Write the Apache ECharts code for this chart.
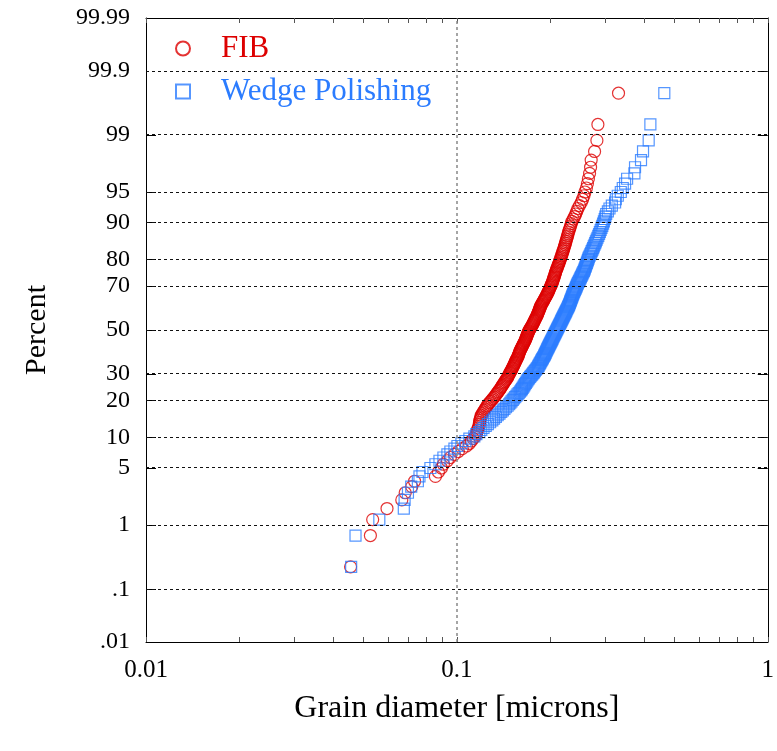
<!DOCTYPE html>
<html>
<head>
<meta charset="utf-8">
<script src="https://cdn.jsdelivr.net/npm/echarts@6/dist/echarts.min.js"></script>
<style>html,body{margin:0;padding:0;background:#fff}#c{width:777px;height:751px}</style>
</head>
<body>
<div id="c"></div>
<script>
// Grain diameters (microns), sorted
const fibDiameter = [
0.0455,0.0527,0.0536,0.0596,0.0665,0.0682,0.0716,0.0731,0.0853,0.0872,
0.0892,0.0905,0.0932,0.0953,0.0982,0.1011,0.1041,0.1073,0.1097,0.1113,
0.1129,0.1146,0.1155,0.1160,0.1163,0.1172,0.1177,0.1181,0.1183,0.1185,
0.1190,0.1194,0.1198,0.1207,0.1216,0.1225,0.1234,0.1243,0.1252,0.1262,
0.1273,0.1284,0.1296,0.1307,0.1319,0.1329,0.1338,0.1348,0.1358,0.1368,
0.1376,0.1385,0.1393,0.1401,0.1409,0.1418,0.1426,0.1435,0.1443,0.1452,
0.1458,0.1465,0.1471,0.1478,0.1484,0.1491,0.1497,0.1504,0.1510,0.1517,
0.1523,0.1528,0.1534,0.1540,0.1545,0.1551,0.1557,0.1563,0.1568,0.1574,
0.1579,0.1583,0.1588,0.1592,0.1597,0.1603,0.1609,0.1615,0.1621,0.1627,
0.1633,0.1639,0.1645,0.1652,0.1658,0.1663,0.1668,0.1673,0.1677,0.1682,
0.1687,0.1692,0.1697,0.1702,0.1707,0.1715,0.1722,0.1730,0.1738,0.1746,
0.1752,0.1759,0.1765,0.1772,0.1778,0.1785,0.1791,0.1798,0.1805,0.1812,
0.1817,0.1822,0.1828,0.1833,0.1839,0.1844,0.1850,0.1855,0.1860,0.1866,
0.1874,0.1882,0.1891,0.1899,0.1908,0.1916,0.1925,0.1933,0.1942,0.1950,
0.1957,0.1965,0.1972,0.1979,0.1987,0.1994,0.2002,0.2009,0.2017,0.2024,
0.2030,0.2036,0.2042,0.2048,0.2054,0.2060,0.2066,0.2072,0.2078,0.2084,
0.2092,0.2100,0.2107,0.2115,0.2123,0.2131,0.2139,0.2147,0.2155,0.2163,
0.2171,0.2179,0.2187,0.2195,0.2203,0.2211,0.2219,0.2228,0.2236,0.2244,
0.2252,0.2261,0.2269,0.2278,0.2286,0.2298,0.2310,0.2322,0.2334,0.2345,
0.2368,0.2392,0.2411,0.2431,0.2451,0.2480,0.2512,0.2538,0.2563,0.2582,
0.2610,0.2630,0.2649,0.2672,0.2692,0.2704,0.2773,0.2821,0.2842,0.3311];

const wedgeDiameter = [
0.0457,0.0472,0.0563,0.0675,0.0679,0.0696,0.0713,0.0749,0.0758,0.0775,
0.0822,0.0853,0.0879,0.0905,0.0932,0.0953,0.0982,0.1004,0.1034,0.1065,
0.1097,0.1138,0.1155,0.1181,0.1198,0.1218,0.1238,0.1258,0.1279,0.1300,
0.1317,0.1335,0.1353,0.1371,0.1389,0.1406,0.1422,0.1439,0.1456,0.1473,
0.1486,0.1499,0.1513,0.1526,0.1540,0.1554,0.1567,0.1581,0.1595,0.1609,
0.1619,0.1628,0.1638,0.1647,0.1657,0.1667,0.1677,0.1687,0.1697,0.1707,
0.1720,0.1732,0.1745,0.1758,0.1769,0.1781,0.1792,0.1803,0.1814,0.1825,
0.1833,0.1841,0.1849,0.1858,0.1866,0.1874,0.1882,0.1891,0.1899,0.1908,
0.1915,0.1922,0.1929,0.1936,0.1943,0.1950,0.1957,0.1965,0.1972,0.1979,
0.1986,0.1994,0.2001,0.2009,0.2016,0.2024,0.2031,0.2039,0.2046,0.2054,
0.2062,0.2069,0.2077,0.2084,0.2092,0.2100,0.2107,0.2115,0.2123,0.2131,
0.2139,0.2147,0.2155,0.2163,0.2171,0.2179,0.2187,0.2195,0.2203,0.2211,
0.2219,0.2228,0.2236,0.2244,0.2252,0.2261,0.2269,0.2278,0.2286,0.2294,
0.2301,0.2308,0.2314,0.2321,0.2328,0.2335,0.2342,0.2349,0.2356,0.2363,
0.2372,0.2380,0.2389,0.2398,0.2407,0.2416,0.2424,0.2433,0.2442,0.2451,
0.2462,0.2473,0.2484,0.2495,0.2506,0.2517,0.2528,0.2539,0.2551,0.2562,
0.2572,0.2581,0.2591,0.2600,0.2610,0.2620,0.2629,0.2639,0.2649,0.2659,
0.2673,0.2687,0.2701,0.2715,0.2729,0.2743,0.2757,0.2771,0.2786,0.2800,
0.2817,0.2833,0.2850,0.2867,0.2884,0.2901,0.2918,0.2936,0.2953,0.2971,
0.2989,0.3004,0.3022,0.3060,0.3097,0.3151,0.3228,0.3245,0.3293,0.3367,
0.3417,0.3476,0.3528,0.3725,0.3742,0.3911,0.3970,0.4140,0.4192,0.4648];

const seriesNames = ['FIB', 'Wedge Polishing'];
const percentTicks = [0.01, 0.1, 1, 5, 10, 20, 30, 50, 70, 80, 90, 95, 99, 99.9, 99.99];
const percentLabels = ['.01', '.1', '1', '5', '10', '20', '30', '50', '70', '80', '90', '95', '99', '99.9', '99.99'];
const xMinorTicks = [0.01,0.02,0.03,0.04,0.05,0.06,0.07,0.08,0.09,0.1,0.2,0.3,0.4,0.5,0.6,0.7,0.8,0.9,1];

// inverse standard normal CDF (probability-paper scale)
function probit(p) {
  const a=[-3.969683028665376e+01,2.209460984245205e+02,-2.759285104469687e+02,1.383577518672690e+02,-3.066479806614716e+01,2.506628277459239e+00];
  const b=[-5.447609879822406e+01,1.615858368580409e+02,-1.556989798598866e+02,6.680131188771972e+01,-1.328068155288572e+01];
  const c=[-7.784894002430293e-03,-3.223964580411365e-01,-2.400758277161838e+00,-2.549732539343734e+00,4.374664141464968e+00,2.938163982698783e+00];
  const d=[7.784695709041462e-03,3.224671290700398e-01,2.445134137142996e+00,3.754408661907416e+00];
  const plow=0.02425, phigh=1-plow;
  let q, r;
  if (p < plow) { q=Math.sqrt(-2*Math.log(p)); return (((((c[0]*q+c[1])*q+c[2])*q+c[3])*q+c[4])*q+c[5])/((((d[0]*q+d[1])*q+d[2])*q+d[3])*q+1); }
  if (p <= phigh) { q=p-0.5; r=q*q; return (((((a[0]*r+a[1])*r+a[2])*r+a[3])*r+a[4])*r+a[5])*q/(((((b[0]*r+b[1])*r+b[2])*r+b[3])*r+b[4])*r+1); }
  q=Math.sqrt(-2*Math.log(1-p)); return -(((((c[0]*q+c[1])*q+c[2])*q+c[3])*q+c[4])*q+c[5])/((((d[0]*q+d[1])*q+d[2])*q+d[3])*q+1);
}
// plotting position of rank i among n sorted values
function toPoints(arr) {
  const n = arr.length;
  return arr.map((v, i) => [v, probit((i + 0.5) / n)]);
}
const tickZ = percentTicks.map(p => probit(p / 100));
const zMin = tickZ[0], zMax = tickZ[tickZ.length - 1];
function zLabel(v) {
  let best = 0;
  for (let i = 1; i < tickZ.length; i++) if (Math.abs(tickZ[i] - v) < Math.abs(tickZ[best] - v)) best = i;
  return percentLabels[best];
}

const FONT = 'Liberation Serif';
const RED = '#dd0000', BLUE = '#2b7cff';

const chart = echarts.init(document.getElementById('c'), null, {renderer: 'canvas'});
const gridLines = tickZ.slice(1, -1).map(z => ({yAxis: z, lineStyle: {color: '#111', type: [3, 3], width: 1}}));
gridLines.push({xAxis: 0.1, lineStyle: {color: '#888', type: [3, 3], width: 1.5}});

chart.setOption({
  animation: false,
  backgroundColor: '#fff',
  grid: {left: 146, right: 6, top: 18, bottom: 109},
  legend: {
    orient: 'vertical', left: 148, top: 25,
    backgroundColor: '#fff',
    padding: [8, 0, 6, 27],
    itemWidth: 14, itemHeight: 14, itemGap: 12,
    selectedMode: false,
    textStyle: {fontFamily: FONT, fontSize: 31, padding: [0, 0, 0, 26]},
    data: [
      {name: seriesNames[0], textStyle: {color: RED}},
      {name: seriesNames[1], textStyle: {color: BLUE}}
    ]
  },
  xAxis: [{
    type: 'log', logBase: 10, min: 0.01, max: 1, position: 'bottom',
    name: 'Grain diameter [microns]', nameLocation: 'middle', nameGap: 51,
    nameTextStyle: {fontFamily: FONT, fontSize: 32, color: '#000'},
    axisLine: {show: true, onZero: false, lineStyle: {color: '#000', width: 1}},
    axisTick: {show: true, inside: true, length: 5, customValues: xMinorTicks, lineStyle: {color: '#555'}},
    minorTick: {show: false},
    splitLine: {show: false},
    axisLabel: {fontFamily: FONT, fontSize: 25, color: '#000', margin: 16,
      formatter: v => (v >= 1 ? '1' : String(+v.toPrecision(3)))}
  }, {
    type: 'log', logBase: 10, min: 0.01, max: 1, position: 'top',
    axisLine: {show: true, onZero: false, lineStyle: {color: '#000', width: 1}},
    axisTick: {show: true, inside: true, length: 5, customValues: xMinorTicks, lineStyle: {color: '#555'}},
    splitLine: {show: false}, axisLabel: {show: false}
  }],
  yAxis: [{
    type: 'value', min: zMin, max: zMax, position: 'left',
    name: 'Percent', nameLocation: 'middle', nameGap: 94, nameRotate: 90,
    nameTextStyle: {fontFamily: FONT, fontSize: 30, color: '#000'},
    axisLine: {show: true, onZero: false, lineStyle: {color: '#000', width: 1}},
    axisTick: {show: true, inside: true, length: 10, customValues: tickZ, lineStyle: {color: '#000'}},
    splitLine: {show: false},
    axisLabel: {fontFamily: FONT, fontSize: 24, color: '#000', margin: 16, customValues: tickZ, formatter: v => zLabel(v)}
  }, {
    type: 'value', min: zMin, max: zMax, position: 'right',
    axisLine: {show: true, onZero: false, lineStyle: {color: '#000', width: 1}},
    axisTick: {show: true, inside: true, length: 10, customValues: tickZ, lineStyle: {color: '#000'}},
    splitLine: {show: false}, axisLabel: {show: false}
  }],
  series: [{
    name: '_grid', type: 'scatter', data: [], z: 1, silent: true,
    markLine: {silent: true, symbol: 'none', label: {show: false}, animation: false, data: gridLines}
  }, {
    name: seriesNames[0], type: 'scatter', symbol: 'circle', symbolSize: 12,
    itemStyle: {color: 'rgba(0,0,0,0)', borderColor: RED, borderWidth: 1.2},
    emphasis: {disabled: true},
    data: toPoints(fibDiameter)
  }, {
    name: seriesNames[1], type: 'scatter', symbol: 'rect', symbolSize: 11,
    itemStyle: {color: 'rgba(0,0,0,0)', borderColor: BLUE, borderWidth: 1.2},
    emphasis: {disabled: true},
    data: toPoints(wedgeDiameter)
  }]
});
</script>
</body>
</html>
